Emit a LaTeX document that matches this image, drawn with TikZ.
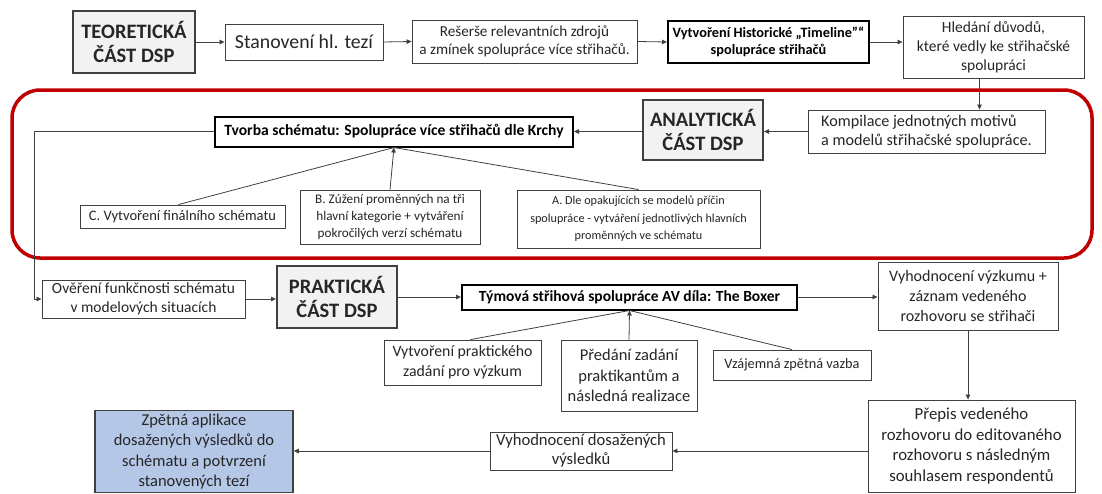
\documentclass[tikz,border=0pt]{standalone}
\usepackage{fontspec}
\setmainfont{Carlito}
\usetikzlibrary{arrows.meta}
\definecolor{edge}{HTML}{404040}
\definecolor{ink}{HTML}{262626}
\definecolor{partfill}{HTML}{F2F2F2}
\definecolor{resultfill}{HTML}{B4C7E7}
\definecolor{frame}{HTML}{C00000}
\newcommand{\fs}[2]{\fontsize{#1}{#2}\selectfont}
\begin{document}
\begin{tikzpicture}[x=1pt,y=-1pt,
  box/.style={draw=edge,line width=0.9pt,fill=white,align=center,inner sep=1pt,text=ink,font=\fs{16}{19.5}},
  keybox/.style={draw=black,line width=2pt,fill=white,align=center,inner sep=1pt,text=black,font=\bfseries\fs{15}{17}},
  partbox/.style={draw=edge,line width=2pt,fill=partfill,align=center,inner sep=1pt,text=ink,font=\bfseries\fs{20.5}{24}},
  link/.style={draw=edge,line width=0.8pt},
  arr/.style={link,-{Triangle[length=5pt,width=4.5pt]}}]
\useasboundingbox (0,0) rectangle (1102,493);

% section frame around the analytic part
\draw[frame,line width=3.5pt,rounded corners=28pt] (12,90) rectangle (1092,258);

% theoretical part
\node[partbox,minimum width=122,minimum height=62] (teor) at (134,42) {TEORETICKÁ\\ČÁST DSP};
\node[box,minimum width=158,minimum height=36,font=\fs{19.8}{22}] (stan) at (304,42) {Stanovení hl. tezí};
\node[box,minimum width=225,minimum height=43,font=\fs{15.2}{18}] (reser) at (524.5,41.5) {Rešerše relevantních zdrojů\\a zmínek spolupráce více střihačů.};
\node[keybox,minimum width=201,minimum height=42,font=\bfseries\fs{14.3}{16.5}] (hist) at (768.5,42) {Vytvoření Historické „Timeline”“\\spolupráce střihačů};
\node[box,minimum width=181,minimum height=62,font=\fs{15.5}{19}] (hled) at (993.5,47) {Hledání důvodů,\\které vedly ke střihačské\\spolupráci};

% analytic part
\node[box,align=left,minimum width=237,minimum height=43,font=\fs{16.2}{19.5}] (komp) at (926.5,131.5) {Kompilace jednotných motivů\\a modelů střihačské spolupráce.};
\node[partbox,minimum width=120,minimum height=60] (anal) at (703,130) {ANALYTICKÁ\\ČÁST DSP};
\node[keybox,minimum width=358,minimum height=30,font=\bfseries\fs{15.6}{17}] (tvor) at (394,131.5) {Tvorba schématu: Spolupráce více střihačů dle Krchy};
\node[box,minimum width=205,minimum height=23,font=\fs{14.5}{17}] (cbox) at (182.5,216.5) {C. Vytvoření finálního schématu};
\node[box,minimum width=180,minimum height=54,font=\fs{13.2}{17}] (bbox) at (390,217) {B. Zúžení proměnných na tři\\hlavní kategorie + vytváření\\pokročilých verzí schématu};
\node[box,minimum width=243,minimum height=58,font=\fs{12.2}{17.5}] (abox) at (638.5,219) {A. Dle opakujících se modelů příčin\\spolupráce - vytváření jednotlivých hlavních\\proměnných ve schématu};

% practical part
\node[box,minimum width=203,minimum height=38,font=\fs{15.5}{18.5}] (over) at (143.5,299) {Ověření funkčnosti schématu\\v modelových situacích};
\node[partbox,minimum width=120,minimum height=62] (prak) at (337,297) {PRAKTICKÁ\\ČÁST DSP};
\node[keybox,minimum width=335,minimum height=25,font=\bfseries\fs{15.5}{17}] (tym) at (629.5,297) {Týmová střihová spolupráce AV díla: The Boxer};
\node[box,minimum width=180,minimum height=68,font=\fs{16}{20}] (vyzk) at (968,296) {Vyhodnocení výzkumu +\\záznam vedeného\\rozhovoru se střihači};
\node[box,minimum width=157,minimum height=45,font=\fs{15.8}{19.5}] (vprak) at (462.5,362.5) {Vytvoření praktického\\zadání pro výzkum};
\node[box,minimum width=136,minimum height=71,font=\fs{16.5}{20.5}] (pred) at (629,375.5) {Předání zadání\\praktikantům a\\následná realizace};
\node[box,minimum width=158,minimum height=30,font=\fs{14.3}{17}] (vzaj) at (792,365) {Vzájemná zpětná vazba};
\node[box,minimum width=207,minimum height=92,font=\fs{16.8}{20.5}] (prep) at (971.5,446) {Přepis vedeného\\rozhovoru do editovaného\\rozhovoru s následným\\souhlasem respondentů};
\node[box,minimum width=182,minimum height=38,font=\fs{16.6}{19}] (vdos) at (581,451) {Vyhodnocení dosažených\\výsledků};
\node[box,line width=1.6pt,fill=resultfill,minimum width=198,minimum height=82,font=\fs{16.5}{20.5}] (zpet) at (194,451.5) {Zpětná aplikace\\dosažených výsledků do\\schématu a potvrzení\\stanovených tezí};

% flow through the theoretical part
\draw[arr] (teor.east) -- (stan.west);
\draw[arr] (stan.east) -- (reser.west);
\draw[arr] (reser.east) -- (hist.west);
\draw[arr] (hist.east) -- (hled.west |- hist.east);
\draw[arr] ([xshift=-14pt]hled.south) -- ([xshift=-14pt]hled.south |- komp.north);

% flow through the analytic part
\draw[arr] (komp.west) -- (anal.east |- komp.west);
\draw[arr] (anal.west |- tvor.east) -- (tvor.east);
\draw[link] ([xshift=-4pt]cbox.north) -- (tvor.south);
\draw[arr] (bbox.north) -- (tvor.south);
\draw[link] (abox.north) -- (tvor.south);
\coordinate (turn) at ([xshift=-7pt]over.west);
\draw[arr] (tvor.west) -| (turn |- tvor.west) -- (turn) -- (over.west);

% flow through the practical part
\draw[arr] (over.east) -- (prak.west |- over.east);
\draw[arr] (prak.east) -- (tym.west);
\draw[arr] (tym.east) -- (vyzk.west |- tym.east);
\draw[link] ([xshift=8pt]vprak.north) -- (tym.south);
\draw[arr] (pred.north) -- (tym.south);
\draw[link] (vzaj.north) -- (tym.south);
\draw[arr] (vyzk.south) -- (vyzk.south |- prep.north);
\draw[arr] (prep.west |- vdos.east) -- (vdos.east);
\draw[arr] (vdos.west) -- (zpet.east |- vdos.west);
\end{tikzpicture}
\end{document}
